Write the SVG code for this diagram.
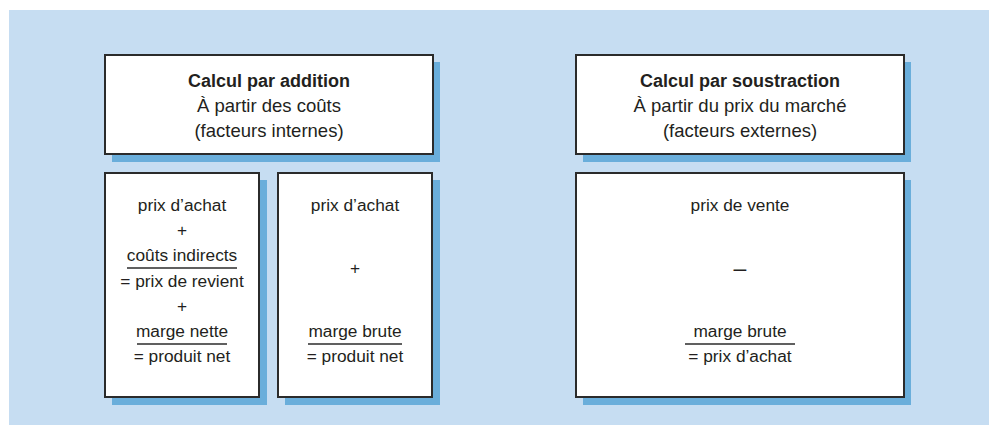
<svg xmlns="http://www.w3.org/2000/svg" width="989" height="425" viewBox="0 0 989 425">
  <style>
    .panel { fill: #c6ddf2; }
    .shadow { fill: #6aaedb; }
    .box { fill: #ffffff; stroke: #2b2b2b; stroke-width: 2; }
    .rule { stroke: #2b2b2b; stroke-width: 1.5; }
    text { font-family: "Liberation Sans", Arial, Helvetica, sans-serif; fill: #231f20; text-anchor: middle; }
    .title { font-size: 18px; font-weight: bold; }
    .sub { font-size: 18.5px; }
    .body { font-size: 17.3px; }
    .dash { font-size: 23px; }
  </style>

  <!-- page background -->
  <rect class="panel" x="9" y="10" width="980" height="415"/>

  <!-- cost-plus header -->
  <g id="header-addition">
    <rect class="shadow" x="112" y="62" width="328" height="100"/>
    <rect class="box" x="105" y="55" width="328" height="99"/>
    <text class="title" x="269" y="87">Calcul par addition</text>
    <text class="sub" x="269" y="112">À partir des coûts</text>
    <text class="sub" x="269" y="137">(facteurs internes)</text>
  </g>

  <!-- retail-minus header -->
  <g id="header-soustraction">
    <rect class="shadow" x="583" y="62" width="328" height="100"/>
    <rect class="box" x="576" y="55" width="328" height="99"/>
    <text class="title" x="740" y="87">Calcul par soustraction</text>
    <text class="sub" x="740" y="112">À partir du prix du marché</text>
    <text class="sub" x="740" y="137">(facteurs externes)</text>
  </g>

  <!-- full cost calculation -->
  <g id="calc-revient">
    <rect class="shadow" x="112" y="180" width="155" height="225"/>
    <rect class="box" x="105" y="173" width="154" height="224"/>
    <text class="body" x="182" y="211">prix d’achat</text>
    <text class="body" x="182" y="236">+</text>
    <text class="body" x="182" y="261">coûts indirects</text>
    <line class="rule" x1="127" y1="268" x2="237" y2="268"/>
    <text class="body" x="182" y="287">= prix de revient</text>
    <text class="body" x="182" y="312">+</text>
    <text class="body" x="182" y="337">marge nette</text>
    <line class="rule" x1="137" y1="344" x2="227" y2="344"/>
    <text class="body" x="182" y="362">= produit net</text>
  </g>

  <!-- gross margin calculation -->
  <g id="calc-marge-brute">
    <rect class="shadow" x="285" y="180" width="155" height="225"/>
    <rect class="box" x="278" y="173" width="154" height="224"/>
    <text class="body" x="355" y="211">prix d’achat</text>
    <text class="body" x="355" y="274">+</text>
    <text class="body" x="355" y="337">marge brute</text>
    <line class="rule" x1="308" y1="344" x2="402" y2="344"/>
    <text class="body" x="355" y="362">= produit net</text>
  </g>

  <!-- subtraction from selling price -->
  <g id="calc-soustraction">
    <rect class="shadow" x="583" y="180" width="328" height="225"/>
    <rect class="box" x="576" y="173" width="328" height="224"/>
    <text class="body" x="740" y="211">prix de vente</text>
    <text class="dash" x="740" y="276">–</text>
    <text class="body" x="740" y="337">marge brute</text>
    <line class="rule" x1="685" y1="344" x2="795" y2="344"/>
    <text class="body" x="740" y="362">= prix d’achat</text>
  </g>

  <g id="connectors"/>
</svg>
